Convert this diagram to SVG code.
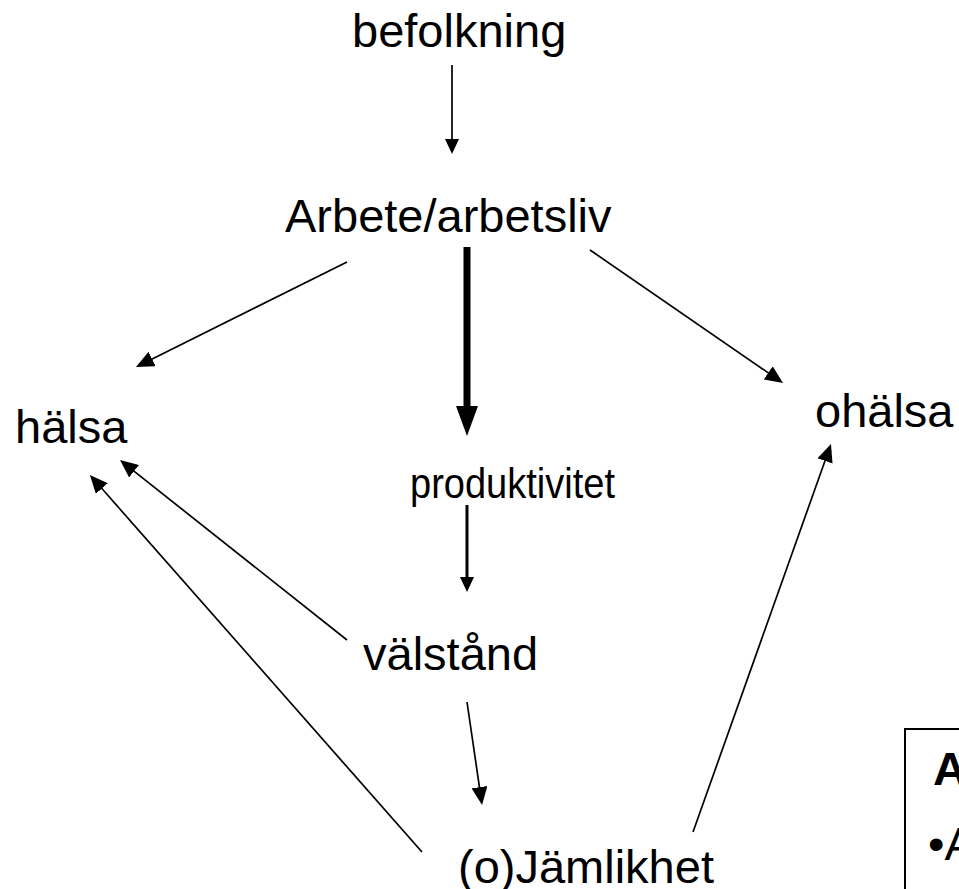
<svg xmlns="http://www.w3.org/2000/svg" width="959" height="889" viewBox="0 0 959 889">
<defs>
<style>
text{font-family:"Liberation Sans",Arial,sans-serif;font-size:47px;fill:#000}
.c{stroke:#000;fill:none;stroke-width:1.7}
.box{fill:#fff;stroke:#000;stroke-width:2}
</style>
<marker id="ah" markerUnits="userSpaceOnUse" viewBox="0 -8 18 16" markerWidth="18" markerHeight="16" refX="1" refY="0" orient="auto"><path d="M0,-8 L18,0 L0,8 z" fill="#000"/></marker>
<marker id="ahm" markerUnits="userSpaceOnUse" viewBox="0 -7 15 14" markerWidth="15" markerHeight="14" refX="1" refY="0" orient="auto"><path d="M0,-7 L15,0 L0,7 z" fill="#000"/></marker>
<marker id="ahb" markerUnits="userSpaceOnUse" viewBox="0 -11 30 22" markerWidth="30" markerHeight="22" refX="1" refY="0" orient="auto"><path d="M0,-11 L30,0 L0,11 z" fill="#000"/></marker>
</defs>
<rect width="959" height="889" fill="#fff"/>
<g id="connectors">
<line class="c" x1="452" y1="65" x2="452" y2="140" marker-end="url(#ahm)"/>
<line class="c" x1="467" y1="247" x2="467" y2="407" style="stroke-width:7" marker-end="url(#ahb)"/>
<line class="c" x1="347" y1="262" x2="151.2" y2="359.4" marker-end="url(#ah)"/>
<line class="c" x1="590" y1="250" x2="769" y2="373.4" marker-end="url(#ah)"/>
<line class="c" x1="467" y1="505" x2="467" y2="578" style="stroke-width:3" marker-end="url(#ahm)"/>
<line class="c" x1="467" y1="702" x2="479.6" y2="788.2" marker-end="url(#ah)"/>
<line class="c" x1="347" y1="640" x2="133.3" y2="470.6" marker-end="url(#ah)"/>
<line class="c" x1="422" y1="852" x2="101.2" y2="487.8" marker-end="url(#ah)"/>
<line class="c" x1="693" y1="832" x2="825.3" y2="460" marker-end="url(#ah)"/>
</g>
<g id="befolkning"><text x="352" y="47">befolkning</text></g>
<g id="arbete"><text x="285" y="232">Arbete/arbetsliv</text></g>
<g id="halsa"><text x="15" y="443">hälsa</text></g>
<g id="ohalsa"><text x="815" y="427">ohälsa</text></g>
<g id="produktivitet"><text x="410" y="498" style="font-size:42px" textLength="205" lengthAdjust="spacingAndGlyphs">produktivitet</text></g>
<g id="valstand"><text x="363" y="670">välstånd</text></g>
<g id="jamlikhet"><text x="458" y="883">(o)Jämlikhet</text></g>
<g id="box">
<rect class="box" x="905" y="729" width="80" height="200"/>
<text x="933" y="785" font-weight="bold">A</text>
<text x="928" y="860">•A</text>
</g>
</svg>
